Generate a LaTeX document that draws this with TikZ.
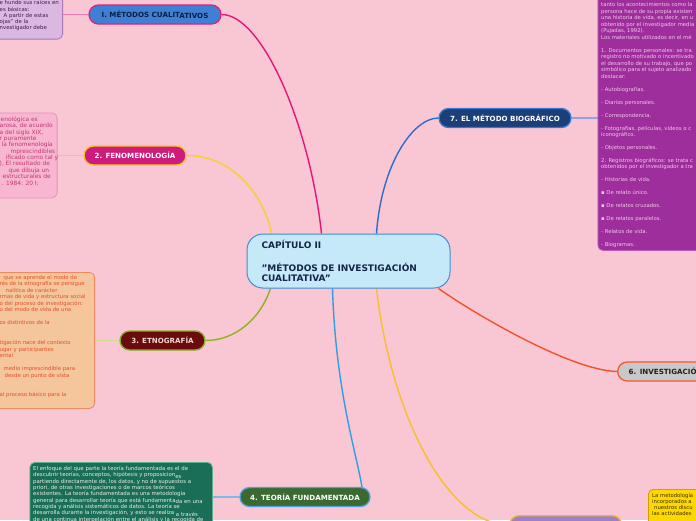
\documentclass[tikz,border=0pt]{standalone}
\usepackage{fontspec}
\setmainfont{DejaVu Sans}
\usetikzlibrary{calc}
\pgfdeclarelayer{back}
\pgfsetlayers{back,main}
\definecolor{bgc}{HTML}{F9C6D3}
\definecolor{cfill}{HTML}{C6E9F9}
\definecolor{cdraw}{HTML}{3D8ED0}
\definecolor{ctext}{HTML}{15254A}
\definecolor{nAfill}{HTML}{3F80D5}
\definecolor{nAdraw}{HTML}{E0207A}
\definecolor{nAtext}{HTML}{101C40}
\definecolor{nBfill}{HTML}{D01A7C}
\definecolor{nBdraw}{HTML}{F0C828}
\definecolor{nCfill}{HTML}{6A0C0C}
\definecolor{nCdraw}{HTML}{8AB030}
\definecolor{nCtext}{HTML}{F4D6D6}
\definecolor{nDfill}{HTML}{3A6A30}
\definecolor{nDdraw}{HTML}{50A0E0}
\definecolor{nFfill}{HTML}{C8C8C8}
\definecolor{nFdraw}{HTML}{F05A30}
\definecolor{nFtext}{HTML}{202020}
\definecolor{nGfill}{HTML}{1B3F78}
\definecolor{nGdraw}{HTML}{3A78D0}
\definecolor{nHfill}{HTML}{9C82C4}
\definecolor{nHdraw}{HTML}{F0B428}
\definecolor{tlfill}{HTML}{DAB8E2}
\definecolor{tldraw}{HTML}{A878B8}
\definecolor{tltext}{HTML}{402050}
\definecolor{fefill}{HTML}{F9B6D0}
\definecolor{fedraw}{HTML}{E890B8}
\definecolor{fetext}{HTML}{C03878}
\definecolor{etfill}{HTML}{F5C59C}
\definecolor{etdraw}{HTML}{F08860}
\definecolor{ettext}{HTML}{E0502A}
\definecolor{tefill}{HTML}{1A6E58}
\definecolor{tedraw}{HTML}{5FB090}
\definecolor{tetext}{HTML}{E6EEE0}
\definecolor{pufill}{HTML}{9E2E9C}
\definecolor{pudraw}{HTML}{B85CB8}
\definecolor{putext}{HTML}{F0C8E8}
\definecolor{yefill}{HTML}{FFD700}
\definecolor{yedraw}{HTML}{D0A000}
\definecolor{yetext}{HTML}{3A3000}
\definecolor{kA}{HTML}{E8157A}
\definecolor{kAa}{HTML}{F07CB4}
\definecolor{kB}{HTML}{F5D030}
\definecolor{kC}{HTML}{8CB41E}
\definecolor{kCa}{HTML}{CDDC8E}
\definecolor{kD}{HTML}{2E9FE0}
\definecolor{kDa}{HTML}{80B8E8}
\definecolor{kF}{HTML}{F5502A}
\definecolor{kG}{HTML}{2A6CD6}
\definecolor{kGa}{HTML}{8EA2E6}
\definecolor{kH}{HTML}{F5C02A}
\tikzset{
  lbl/.style={rounded corners=9.5pt, line width=1.3pt, minimum height=19pt, inner sep=0pt,
    font=\fontsize{7.1}{8}\selectfont\bfseries},
  conn/.style={line width=1.4pt},
  tbox/.style={rounded corners=5pt, line width=0.8pt, inner sep=0pt},
  ttext/.style={anchor=north west, inner sep=0pt, align=left},
}
\newcommand{\fs}[2]{\fontsize{#1}{#2}\selectfont}
\begin{document}
\begin{tikzpicture}[x=1pt,y=-1pt]
\useasboundingbox (0,0) rectangle (696,520);
\clip (0,0) rectangle (696,520);
\begin{pgfonlayer}{back}
\fill[bgc] (0,0) rectangle (696,520);
\end{pgfonlayer}

% central node
\node[draw=cdraw, fill=cfill, line width=1pt, rounded corners=16pt, minimum width=203pt,
  minimum height=54pt, inner sep=0pt, text width=174pt, align=left, text=ctext,
  font=\fontsize{9}{10}\selectfont\bfseries] (c) at (348.5,261)
  {CAPÍTULO II\\[2.3pt]~\\"MÉTODOS DE INVESTIGACIÓN\\CUALITATIVA"};

% branch nodes
\node[lbl, fill=nAfill, draw=nAdraw, text=nAtext, minimum width=132pt] (n1) at (155,14.5)
  {I. MÉTODOS CUALIT\kern-0.6pt\raisebox{-1.3pt}{ATIVOS}};
\node[lbl, fill=nBfill, draw=nBdraw, text=white, minimum width=102pt] (n2) at (135,155.5)
  {2. FENOMENOLOGÍA};
\node[lbl, fill=nCfill, draw=nCdraw, text=nCtext, minimum width=85pt] (n3) at (162.5,340.5)
  {3. ETNOGRAFÍA};
\node[lbl, fill=nDfill, draw=nDdraw, text=white, minimum width=130pt] (n4) at (305,497)
  {4. TEORÍA FUNDAMENTADA};
\node[lbl, fill=nFfill, draw=nFdraw, text=nFtext, minimum width=150pt, anchor=west,
  inner xsep=11pt, align=left, text width=128pt] (n6) at (617,371.5) {6. INVESTIGACIÓN};
\node[lbl, fill=nGfill, draw=nGdraw, text=white, minimum width=132pt] (n7) at (505,118)
  {7. EL MÉTODO BIOGRÁFICO};
\node[lbl, fill=nHfill, draw=nHdraw, minimum width=112pt, anchor=north west] (n5) at (509,515) {};

% text boxes
\node[tbox, fill=tlfill, draw=tldraw, minimum width=100pt, minimum height=60pt,
  anchor=south east] (tlbox) at (63,39.5) {};
\node[ttext, text=tltext, font=\fs{5.4}{6.3}] (tltxt) at (-0.5,0.2)
  {\rule{0pt}{4pt}e hunde sus raíces en\\es básicas:\\\hspace{4pt}A partir de estas\\ojas" de la\\nvestigador debe};

\node[tbox, fill=fefill, draw=fedraw, minimum width=100pt, minimum height=85pt,
  anchor=north east] (febox) at (57.5,112.5) {};
\node[ttext, text=fetext, font=\fs{5.9}{6.35}] (fetxt) at (-0.5,116.6)
  {\rule{0pt}{4.2pt}\hspace{1pt}enológica es\\arosa, de acuerdo\\a del siglo XIX,\\r puramente\\
   \hspace{2pt}la fenomenología\\\hspace{11pt}mprescindibles\\\hspace{6pt}ificado como tal y\\
   ), El resultado de\\\hspace{9pt}que dibuja un\\\hspace{3pt}estructurales de\\\hspace{2pt}. 1984: 20 I;};

\node[tbox, fill=etfill, draw=etdraw, minimum width=150pt, minimum height=136pt,
  anchor=north east] (etbox) at (95,272) {};
\node[ttext, text=ettext, font=\fs{5.35}{6.54}] (ettxt) at (-0.5,274.8)
  {\rule{0pt}{4pt}\hspace{4pt}que se aprende el modo de\\rés de la etnografía se persigue\\
   \hspace{6pt}nalítica de carácter\\rmas de vida y estructura social\\o del proceso de investigación:\\
   o del modo de vida de una\\~\\os distintivos de la\\~\\~\\tigación nace del contexto\\
   ugar y participantes\\ental\\~\\\hspace{4pt}medio imprescindible para\\
   \hspace{5pt}desde un punto de vista\\~\\~\\al proceso básico para la};

\node[tbox, fill=tefill, draw=tedraw, minimum width=182.5pt, minimum height=70pt,
  anchor=north west] (tebox) at (29.5,462) {};
\node[ttext, text=tetext, font=\fs{5.4}{6.34}] (tetxt) at (33,465.8)
  {\rule{0pt}{4pt}El enfoque del que parte la teoría fundamentada es el de\\
   descubrir teorías, conceptos, hipótesis y proposicion\raisebox{-1.5pt}{es}\\
   partiendo directamente de, los datos, y no de supuestos a\\
   priori, de otras investigaciones o de marcos teóricos\\
   existentes. La teoría fundamentada es una metodología\\
   general para desarrollar teoría que está fundamenta\raisebox{-1.5pt}{da en una}\\
   recogida y análisis sistemáticos de datos. La teoría se\\
   desarrolla durante la investigación, y esto se realiza \raisebox{-1.5pt}{a través}\\
   de una continua interpelación entre el análisis y la recogida de};

\node[tbox, fill=pufill, draw=pudraw, minimum width=120pt, minimum height=260pt,
  anchor=north west] (pubox) at (597.5,-10) {};
\node[ttext, text=putext, font=\fs{5.3}{6.49}] (putxt) at (601,2.5)
  {\rule{0pt}{4pt}tanto los acontecimientos como la\\persona hace de su propia existen\\
   una historia de vida, es decir, en u\\obtenido por el investigador media\\(Pujadas, 1992).\\
   Los materiales utilizados en el mé\\~\\1. Documentos personales: se tra\\
   registro no motivado o incentivado\\el desarrollo de su trabajo, que po\\
   simbólico para el sujeto analizado\\destacar:\\~\\- Autobiografías.\\~\\- Diarios personales.\\~\\
   - Correspondencia.\\~\\- Fotografías, películas, videos o c\\iconográfico.\\~\\- Objetos personales.\\~\\
   2. Registros biográficos: se trata c\\obtenidos por el investigador a tra\\~\\- Historias de vida.\\~\\
   ▪ De relato único.\\~\\▪ De relatos cruzados.\\~\\▪ De relatos paralelos.\\~\\- Relatos de vida.\\~\\
   - Biogramas.};

\node[tbox, fill=yefill, draw=yedraw, minimum width=60pt, minimum height=40pt,
  anchor=north west] (yebox) at (648,489) {};
\node[ttext, text=yetext, font=\fs{5.3}{6.1}] (yetxt) at (652,493.2)
  {\rule{0pt}{4pt}La metodología\\incorporados a\\\hspace{2pt}nuestros discu\\las actividades};

% connectors
\begin{pgfonlayer}{back}
\draw[conn, kAa] (n1.west) -- (n1.west -| tlbox.east);
\draw[conn, kB] (n2.west) -- (n2.west -| febox.east);
\draw[conn, kCa] (n3.west) -- (n3.west -| etbox.east);
\draw[conn, kDa] (n4.west) -- (n4.west -| tebox.east);
\draw[conn, kGa] (n7.east) -- (n7.east -| pubox.west);
\draw[conn, kA] (n1.east) .. controls +(40,0) and +(-12,-110) .. ([xshift=-27pt]c.north);
\draw[conn, kB] (n2.east) .. controls +(45,0) and +(-8,-40) .. ([xshift=-77pt]c.north);
\draw[conn, kC] ([xshift=-78pt]c.south) .. controls +(-10,30) and +(30,0) .. (n3.east);
\draw[conn, kD] ([xshift=-16pt]c.south) .. controls +(3,100) and +(-6,-35) .. ([xshift=57pt]n4.north);
\draw[conn, kH] ([xshift=28pt]c.south) .. controls +(15,130) and +(-60,0) .. (n5.west);
\draw[conn, kF] (c.-17) .. controls +(40,28) and +(-45,-1) .. (n6.west);
\draw[conn, kG] ([xshift=28pt]c.north) .. controls +(5,-70) and +(-25,0) .. (n7.west);
\end{pgfonlayer}
\end{tikzpicture}
\end{document}
